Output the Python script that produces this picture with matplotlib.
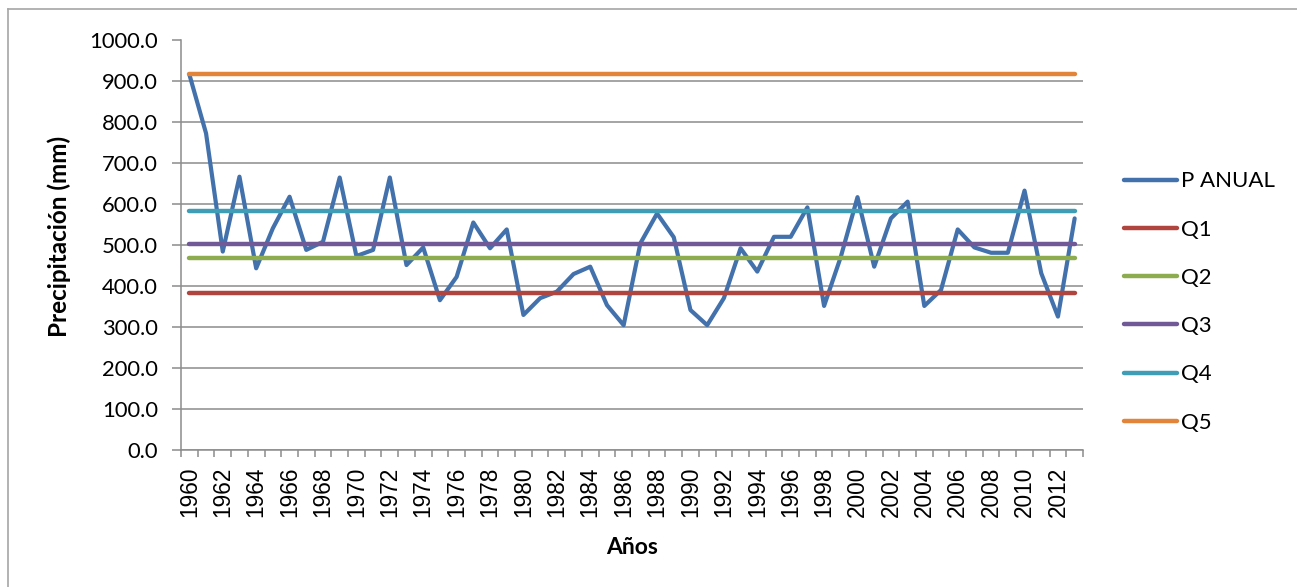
import matplotlib
matplotlib.use("Agg")
import matplotlib.pyplot as plt
from matplotlib.lines import Line2D
import numpy as np

# ---- data ----
years = list(range(1960, 2014))
p_anual = [917, 773, 484, 667, 443, 541, 618, 488, 508, 665,
           473, 488, 665, 451, 494, 365, 422, 555, 492, 538,
           329, 370, 386, 429, 447, 353, 304, 504, 577, 519,
           341, 304, 370, 492, 435, 520, 520, 592, 351, 471,
           617, 447, 565, 606, 351, 390, 538, 494, 481, 481,
           633, 431, 325, 565]
q_labels = ["Q1", "Q2", "Q3", "Q4", "Q5"]
q_values = [382, 467, 502, 582, 917]
series_label = "P ANUAL"
y_ticks = list(range(0, 1001, 100))
x_label_years = list(range(1960, 2013, 2))

# ---- style ----
W, H = 1297, 587
fig = plt.figure(figsize=(W / 100, H / 100), dpi=100)
ax = fig.add_axes([181 / W, 1 - 449.5 / H, (1083 - 181) / W, (449.5 - 40.5) / H])

blue = "#4271AC"
q_colors = ["#B0453F", "#8DAB4F", "#715896", "#3F9DB5", "#E2853A"]
grid_c = "#8C8C8C"

ax.plot(years, p_anual, color=blue, lw=3.0, solid_capstyle="round",
        solid_joinstyle="round", label=series_label, zorder=3)
for lab, val, c in zip(q_labels, q_values, q_colors):
    ax.plot(years, [val] * len(years), color=c, lw=3.2,
            solid_capstyle="round", label=lab, zorder=3)

ax.set_xlim(years[0] - 0.5, years[-1] + 0.5)
ax.set_ylim(0, 1000)
ax.set_yticks(y_ticks)
ax.set_yticklabels([f"{v:.1f}" for v in y_ticks], fontfamily="Lato",
                   fontsize=15.8, color="#000000")
ax.yaxis.grid(True, color=grid_c, lw=1.1)
ax.set_axisbelow(True)

ax.set_xticks(x_label_years)
ax.set_xticklabels([str(y) for y in x_label_years], rotation=90,
                   fontfamily="Liberation Sans", fontsize=16.3)
ax.set_xticks(np.arange(years[0] - 0.5, years[-1] + 1.0, 1.0), minor=True)
ax.tick_params(axis="x", which="major", length=0, pad=12.3)
ax.tick_params(axis="x", which="minor", length=5, width=1.1, color=grid_c,
               direction="out")
ax.tick_params(axis="y", which="major", length=6.5, width=1.1, color=grid_c,
               direction="out", pad=10)

for s in ["top", "right"]:
    ax.spines[s].set_visible(False)
for s in ["left", "bottom"]:
    ax.spines[s].set_color(grid_c)
    ax.spines[s].set_linewidth(1.1)

fig.text(59 / W, 1 - 236 / H, "Precipitación (mm)", rotation=90,
         ha="center", va="center", fontfamily="Lato", fontweight="bold",
         fontsize=17.5)
fig.text(632 / W, 1 - 547 / H, "Años", ha="center", va="center",
         fontfamily="Lato", fontweight="bold", fontsize=16.5)

leg = ax.legend(loc="center left", bbox_to_anchor=(1124 / W, 1 - 302 / H),
                bbox_transform=fig.transFigure, frameon=False, borderpad=0,
                borderaxespad=0, handlelength=2.4, handletextpad=0.18,
                labelspacing=1.27, prop={"family": "Lato", "size": 16})
for h in leg.get_lines():
    h.set_linewidth(3.2)
    h.set_solid_capstyle("round")

# outer chart border (left and top visible)
fig.add_artist(Line2D([7.5 / W, 7.5 / W], [0, 1 - 8.5 / H], transform=fig.transFigure,
                      color="#A6A6A6", lw=1.2))
fig.add_artist(Line2D([7.5 / W, 1], [1 - 8.5 / H, 1 - 8.5 / H], transform=fig.transFigure,
                      color="#A6A6A6", lw=1.2))

fig.savefig("out.png", dpi=100, facecolor="white")
